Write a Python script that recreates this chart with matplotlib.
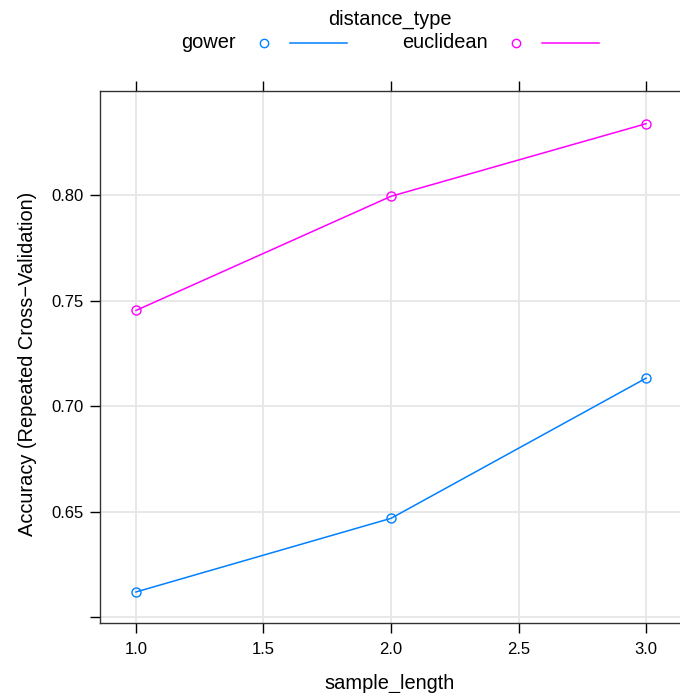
import numpy as np
import matplotlib
matplotlib.use("Agg")
import matplotlib.pyplot as plt
from matplotlib.lines import Line2D

plt.rcParams['font.family'] = ['Liberation Sans', 'DejaVu Sans']

sample_length = [1.0, 2.0, 3.0]
gower = [0.6119, 0.6468, 0.7132]
euclidean = [0.7453, 0.7994, 0.8338]
series_names = ['gower', 'euclidean']
series_colors = ['#0080ff', '#ff00ff']
xticks = [1.0, 1.5, 2.0, 2.5, 3.0]
yticks = [0.60, 0.65, 0.70, 0.75, 0.80]
ylabels = ['', '0.65', '0.70', '0.75', '0.80']

W, H = 680, 693
fig = plt.figure(figsize=(W / 100, H / 100), dpi=100)
# panel runs a bit past the right edge, as in the reference
ax = fig.add_axes([100 / W, (H - 623) / H, 582 / W, 532 / H])

for vals, c in zip([gower, euclidean], series_colors):
    ax.plot(sample_length, vals, color=c, lw=1.1, marker='o', ms=6.5,
            mfc='none', mec=c, mew=1.0, zorder=3)

ax.set_xlim(0.859, 3.141)
ax.set_ylim(0.5972, 0.8493)
ax.set_xticks(xticks)
ax.set_xticklabels([f'{v:.1f}' for v in xticks])
ax.set_yticks(yticks)
ax.set_yticklabels(ylabels)
ax.grid(True, color='#e6e6e6', lw=1.3, zorder=0)
ax.set_axisbelow(True)
ax.tick_params(direction='out', length=7, width=1, colors='black',
               labelsize=12, top=True, right=True)
ax.tick_params(axis='x', labeltop=False, pad=7)
ax.tick_params(axis='y', pad=5)
for s in ax.spines.values():
    s.set_linewidth(1.0)
    s.set_color('#333333')

fig.text(390 / W, 1 - 683 / H, 'sample_length', ha='center', va='center', fontsize=14.4)
fig.text(28 / W, 1 - 364 / H, 'Accuracy (Repeated Cross\u2212Validation)',
         ha='center', va='center', rotation=90, fontsize=14.4)

# legend on top, lattice style
fig.text(390 / W, 1 - 19 / H, 'distance_type', ha='center', va='center', fontsize=14.4)
text_right = [236, 488]
for name, c, xr in zip(series_names, series_colors, text_right):
    fig.text(xr / W, 1 - 43 / H, name, ha='right', va='center', fontsize=14.4)
    fig.add_artist(Line2D([(xr + 28) / W], [1 - 43 / H], transform=fig.transFigure,
                          marker='o', ms=6, mfc='none', mec=c, mew=1.0, ls='none'))
    fig.add_artist(Line2D([(xr + 54) / W, (xr + 111) / W], [1 - 43 / H, 1 - 43 / H],
                          transform=fig.transFigure, color=c, lw=1.1))

fig.savefig('out.png', dpi=100)
